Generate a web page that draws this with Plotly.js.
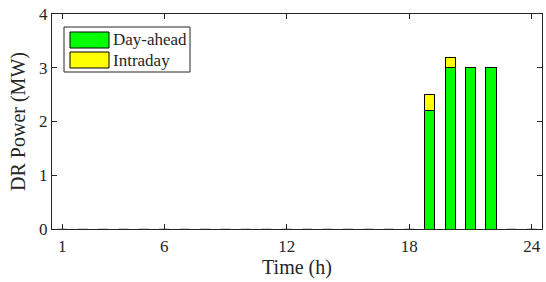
<!DOCTYPE html>
<html><head><meta charset="utf-8">
<script src="https://cdn.plot.ly/plotly-3.0.1.min.js"></script>
<style>body{margin:0;padding:0;background:#fff}#c{width:546px;height:282px}</style>
</head><body><div id="c"></div>
<script>
const hours = Array.from({length:24},(_,i)=>i+1);
const dayAhead = [0,0,0,0,0,0,0,0,0,0,0,0,0,0,0,0,0,0,2.2,3.0,3.0,3.0,0,0];
const intraday = [0,0,0,0,0,0,0,0,0,0,0,0,0,0,0,0,0,0,0.3,0.2,0,0,0,0];
const seriesNames = ['Day-ahead','Intraday'];
const seriesColors = ['#00ff00','#ffff00'];
const xTicks = [1,6,12,18,24];
const yTicks = [0,1,2,3,4];

const font = {family:'"Liberation Serif", "Times New Roman", serif', color:'#262626'};
const f = s=>Object.assign({size:s},font);
const barW = 0.5;

// zero-height bar edges (as MATLAB draws them)
const zx=[], zy=[];
hours.forEach((h,i)=>{ if(dayAhead[i]+intraday[i]===0){ zx.push(h-barW/2,h+barW/2,null); zy.push(0,0,null);} });

const traces = [
  {type:'bar', x:hours, y:dayAhead, name:seriesNames[0], width:barW,
   marker:{color:seriesColors[0], line:{color:'#000', width:1}}, showlegend:false, hoverinfo:'none'},
  {type:'bar', x:hours, y:intraday, name:seriesNames[1], width:barW,
   marker:{color:seriesColors[1], line:{color:'#000', width:1}}, showlegend:false, hoverinfo:'none'},
  {type:'scatter', mode:'lines', x:zx, y:zy, line:{color:'#a0a0a0', width:1}, showlegend:false, hoverinfo:'none', cliponaxis:false}
];

// custom legend (pixel positions converted to paper)
const L=52, R=542, T=14, B=229;
const px = v=>(v-L)/(R-L), py = v=>(B-v)/(B-T);
const shapes = [
  {type:'rect', xref:'paper', yref:'paper', x0:px(64), x1:px(190), y0:py(27), y1:py(72), fillcolor:'#fff', line:{color:'#262626', width:1}},
  {type:'rect', xref:'paper', yref:'paper', x0:px(70), x1:px(109), y0:py(32), y1:py(48), fillcolor:seriesColors[0], line:{color:'#000', width:1}},
  {type:'rect', xref:'paper', yref:'paper', x0:px(70), x1:px(109), y0:py(52), y1:py(68), fillcolor:seriesColors[1], line:{color:'#000', width:1}}
];
const annotations = [
  {xref:'paper', yref:'paper', x:px(111), y:py(40), text:seriesNames[0], showarrow:false, xanchor:'left', yanchor:'middle', font:f(17)},
  {xref:'paper', yref:'paper', x:px(111), y:py(60), text:seriesNames[1], showarrow:false, xanchor:'left', yanchor:'middle', font:f(17)}
];

const layout = {
  width:546, height:282,
  margin:{l:L, r:546-R, t:T, b:282-B},
  paper_bgcolor:'#fff', plot_bgcolor:'#fff',
  barmode:'stack',
  font:f(17),
  showlegend:false,
  xaxis:{range:[0.5,24.5], tickvals:xTicks, ticktext:xTicks.map(String), ticks:'inside', ticklen:5, tickcolor:'#262626',
    showline:true, linecolor:'#262626', linewidth:1, mirror:'ticks', showgrid:false, zeroline:false, ticklabelstandoff:2,
    title:{text:'Time (h)', font:f(20), standoff:4}, tickfont:f(17)},
  yaxis:{range:[0,4], tickvals:yTicks, ticks:'inside', ticklen:5, tickcolor:'#262626',
    showline:true, linecolor:'#262626', linewidth:1, mirror:'ticks', showgrid:false, zeroline:false,
    title:{text:'DR Power (MW)', font:f(20), standoff:8}, tickfont:f(17)},
  shapes:shapes, annotations:annotations
};
Plotly.newPlot('c', traces, layout, {staticPlot:true, displayModeBar:false});
</script></body></html>
